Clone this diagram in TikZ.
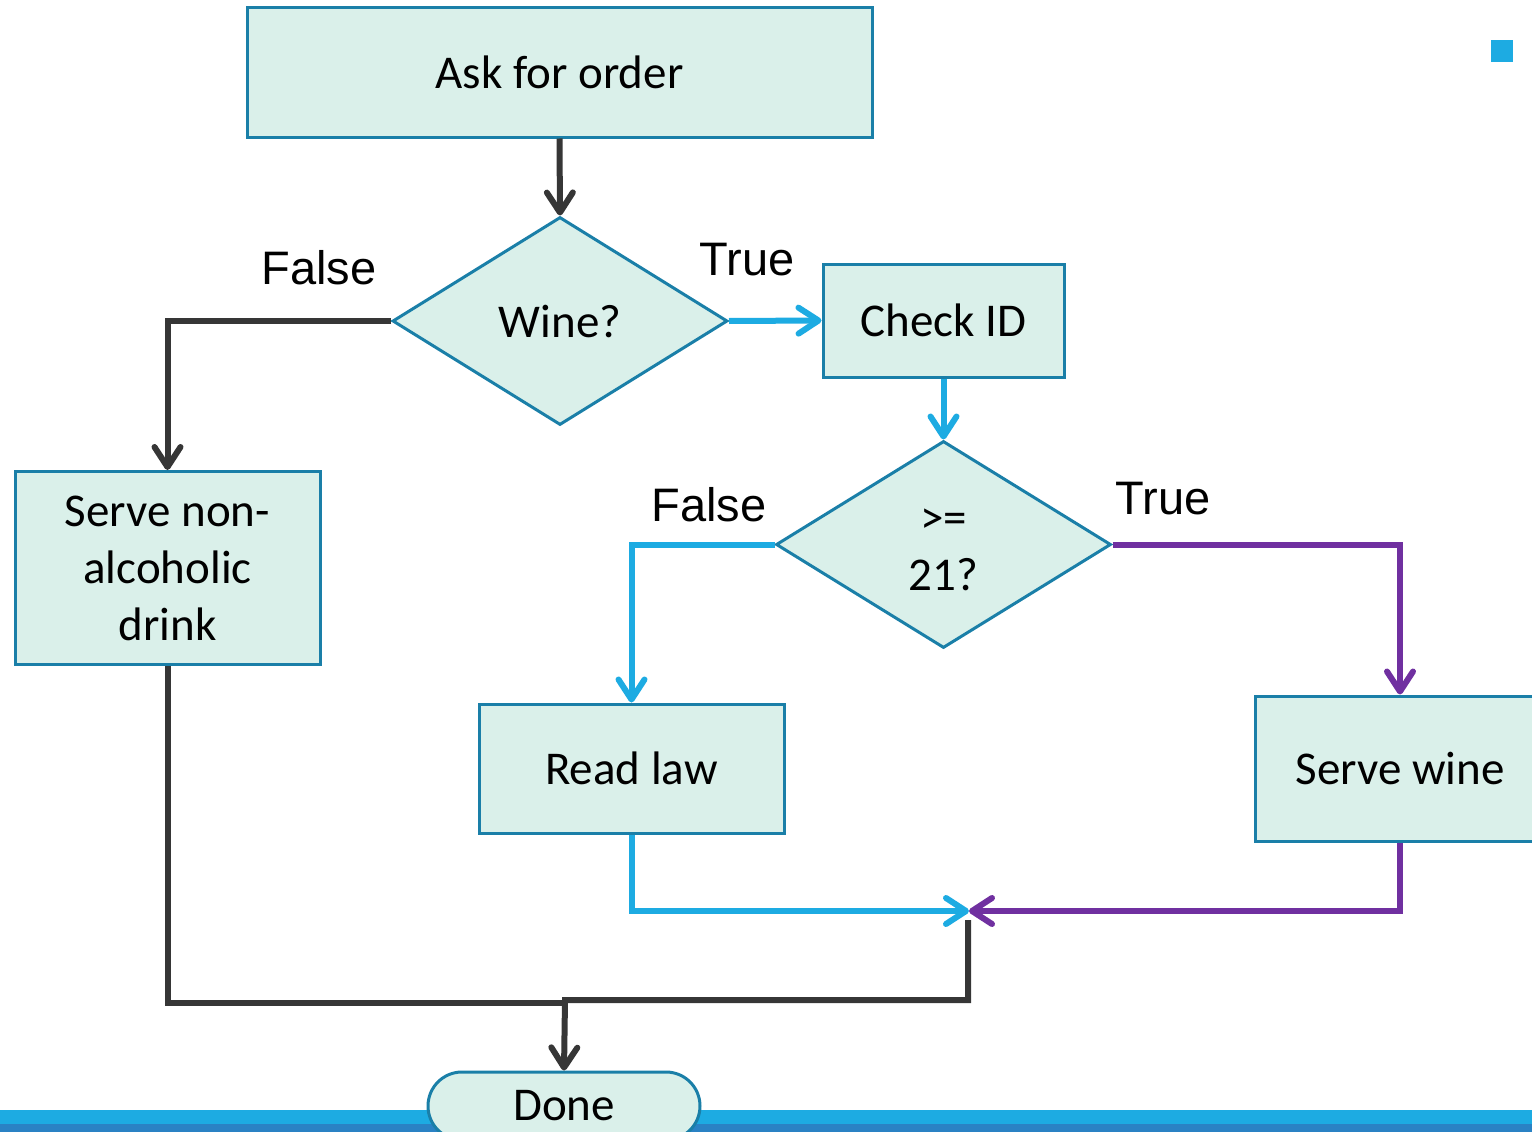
\documentclass[tikz,border=0pt]{standalone}
\usepackage{fontspec}
\setmainfont{Carlito}
\newfontfamily\labfont{Liberation Sans}
\usetikzlibrary{shapes.geometric,shapes.misc,arrows.meta}
\definecolor{boxfill}{HTML}{DAF0EA}
\definecolor{boxline}{HTML}{1A7FA8}
\definecolor{cblue}{HTML}{1DABE2}
\definecolor{cdark}{HTML}{363636}
\definecolor{cpurple}{HTML}{7030A0}
\definecolor{bardark}{HTML}{2A82C4}
\tikzset{
  procbox/.style={draw=boxline,fill=boxfill,line width=3pt,rectangle,inner sep=0pt,font=\fontsize{47}{57}\selectfont,align=center},
  decbox/.style={draw=boxline,fill=boxfill,line width=3pt,diamond,inner sep=0pt,font=\fontsize{47}{57}\selectfont,align=center},
  termbox/.style={draw=boxline,fill=boxfill,line width=3pt,rounded rectangle,inner sep=0pt,font=\fontsize{47}{57}\selectfont},
  lab/.style={font=\labfont\fontsize{47}{57}\selectfont,anchor=base,inner sep=0pt},
  conn/.style={line width=6pt,-{Straight Barb[length=20pt,width=26pt,round]}},
  plainconn/.style={line width=6pt},
}
\begin{document}
\begin{tikzpicture}[x=1pt,y=-1pt]
\useasboundingbox (0,0) rectangle (1532,1132);
\clip (0,0) rectangle (1532,1132);
% bottom bar
\fill[cblue] (0,1110) rectangle (1532,1124);
\fill[bardark] (0,1124) rectangle (1532,1132);
% corner square
\fill[cblue] (1491,40) rectangle (1513,62);
% nodes
\node[procbox,minimum width=625pt,minimum height=129pt] (ask) at (559.5,72.5) {Ask for order};
\node[decbox,minimum width=335pt,minimum height=208pt] (wine) at (560,321) {Wine?};
\node[procbox,minimum width=241pt,minimum height=113pt] (check) at (943.5,320.5) {Check ID};
\node[decbox,minimum width=335pt,minimum height=207pt] (age) at (943.5,544.5) {};
\node[font=\fontsize{47}{57}\selectfont,align=center,inner sep=0pt] (agetext) at (943.5,550) {>=\\21?};
\node[procbox,minimum width=305pt,minimum height=193pt] (nonalc) at (167.5,568) {Serve non-\\alcoholic\\drink};
\node[procbox,minimum width=305pt,minimum height=129pt] (law) at (631.5,768.5) {Read law};
\node[procbox,minimum width=290pt,minimum height=145pt] (servewine) at (1400,768.5) {Serve wine};
\node[termbox,minimum width=272pt,minimum height=68pt] (done) at (564,1106) {Done};
% labels
\node[lab] (f1) at (319,284) {False};
\node[lab] (t1) at (747,275) {True};
\node[lab] (f2) at (709,521) {False};
\node[lab] (t2) at (1163,514) {True};
% junction coordinates
\coordinate (m) at (969,911);
\coordinate (m2) at (968,920);
\coordinate (j) at (565,1000);
\coordinate (j2) at (565,1003);
% connectors
\draw[conn,cdark] (ask.south) -- (wine.north);
\draw[conn,cdark] (wine.west) -| (nonalc.north);
\draw[conn,cblue] (wine.east) -- (check.west);
\draw[conn,cblue] (check.south) -- (age.north);
\draw[conn,cblue] (age.west) -| (law.north);
\draw[conn,cpurple] (age.east) -| (servewine.north);
\draw[conn,cblue] (law.south) |- (m);
\draw[conn,cpurple] (servewine.south) |- (m);
\draw[plainconn,cdark] (nonalc.south) |- (j2);
\draw[conn,cdark] (m2) |- (j) -- (done.north);
\end{tikzpicture}
\end{document}
